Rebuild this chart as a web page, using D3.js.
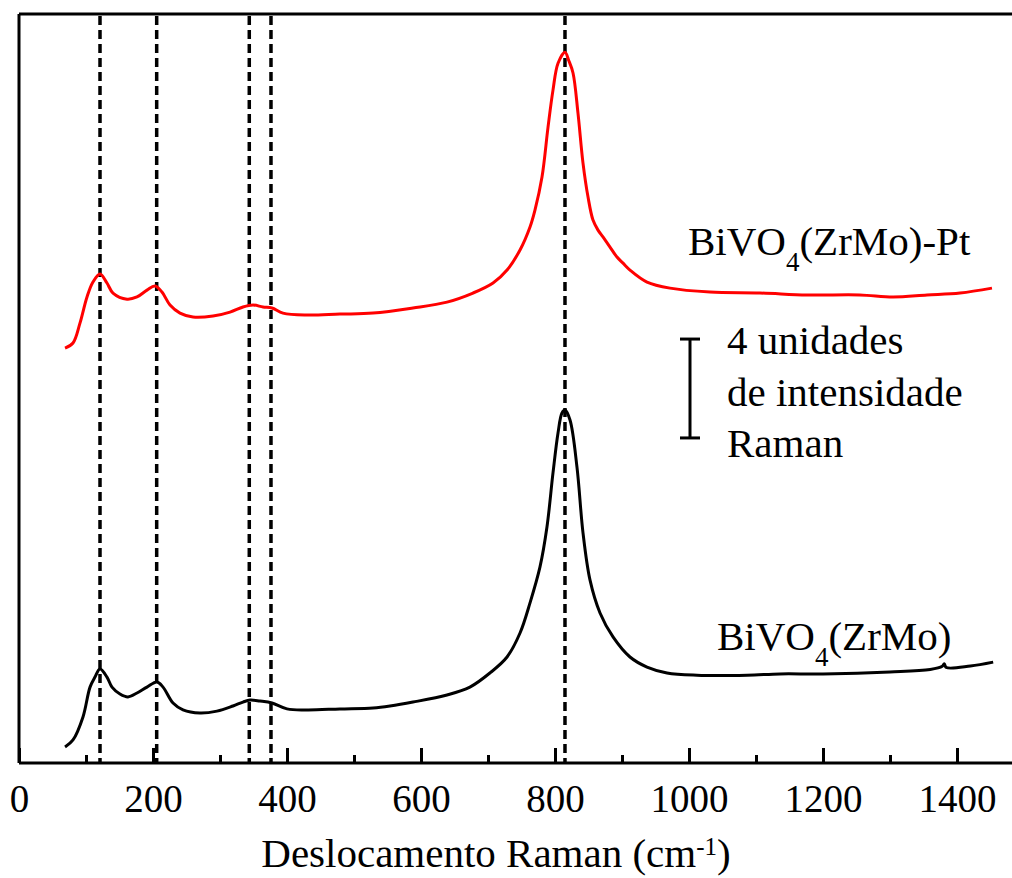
<!DOCTYPE html>
<html>
<head>
<meta charset="utf-8">
<script src="https://cdn.jsdelivr.net/npm/d3@7"></script>
<style>
  html, body { margin: 0; padding: 0; background: #fff; }
  svg { display: block; }
</style>
</head>
<body>
<svg id="chart" width="1012" height="878"></svg>
<script>
// ---- data (Raman shift in cm^-1, intensity in arbitrary stacked units) ----
const blackShift = [68.7, 80.6, 95.5, 106, 113.4, 120.9, 131.3, 138.8, 150.7, 162.7, 176.1, 191, 206, 215, 229.9, 244.8, 270, 295.5, 319.4, 334.3, 344.8, 359.7, 377.6, 400, 429.9, 479, 528.4, 553.7, 588, 638.8, 673, 703, 728.4, 747.8, 762.7, 777.6, 788, 797, 804.5, 810.4, 814.9, 822.4, 832.8, 841.8, 852.2, 867.2, 886.6, 911.9, 937.3, 967.2, 1011.9, 1086.6, 1135.8, 1200, 1300, 1360, 1378, 1381, 1384, 1420, 1454];
const blackIntensity = [0.65, 0.94, 1.88, 3.10, 3.51, 3.84, 3.51, 3.10, 2.82, 2.70, 2.86, 3.10, 3.31, 3.10, 2.45, 2.17, 2.04, 2.12, 2.33, 2.49, 2.57, 2.53, 2.45, 2.21, 2.17, 2.21, 2.25, 2.33, 2.49, 2.78, 3.10, 3.68, 4.33, 5.31, 6.54, 8.01, 9.64, 11.85, 13.48, 14.30, 14.42, 14.01, 12.09, 9.40, 7.48, 6.13, 5.15, 4.33, 3.92, 3.68, 3.59, 3.59, 3.64, 3.64, 3.72, 3.82, 3.95, 4.05, 3.90, 3.96, 4.12];

const redShift = [68.7, 80.6, 91, 101.5, 110.4, 120.9, 131.3, 140.3, 161.2, 176.1, 191, 203, 213.4, 225.4, 240.3, 259.7, 289.6, 315, 334.3, 349.3, 364.2, 377.6, 394, 429.9, 479, 528.4, 588, 638.8, 677.6, 707.5, 728.4, 747.8, 762.7, 770.1, 780.6, 789.6, 797, 804.5, 814.9, 820.5, 826.9, 834.3, 841.8, 849.3, 856.7, 864.2, 871.6, 882.1, 892.5, 901.5, 911.9, 937.3, 971.6, 1031.3, 1106, 1176, 1255, 1304.5, 1355.2, 1404.5, 1452.2];
const redIntensity = [16.95, 17.16, 17.97, 19.04, 19.65, 19.98, 19.61, 19.20, 18.95, 19.04, 19.32, 19.49, 19.24, 18.71, 18.38, 18.22, 18.26, 18.42, 18.63, 18.71, 18.63, 18.59, 18.38, 18.30, 18.34, 18.38, 18.59, 18.83, 19.20, 19.61, 20.14, 20.96, 21.90, 22.59, 23.94, 25.98, 27.49, 28.59, 29.04, 28.70, 28.19, 26.55, 24.51, 23.12, 22.18, 21.77, 21.49, 21.08, 20.67, 20.42, 20.14, 19.65, 19.40, 19.24, 19.20, 19.12, 19.12, 19.04, 19.12, 19.20, 19.40];

const peakLines = [120.9, 205.5, 343.7, 376.1, 814.9];
const xTicksMajor = [0, 200, 400, 600, 800, 1000, 1200, 1400];
const xTicksMinor = [100, 300, 500, 700, 900, 1100, 1300, 1500];
const scaleBar = [13.28, 17.32];   // 4 intensity units
const scaleText = ["4 unidades", "de intensidade", "Raman"];
const xTitle = "Deslocamento Raman (cm";

// ---- layout ----
const FONT = '"Liberation Serif", "Times New Roman", serif';
const svg = d3.select("#chart");
const padL = 19, plotBottom = 763, plotTop = 14;
const x = d3.scaleLinear().domain([0, 1500]).range([padL, padL + 1005]);
const y = d3.scaleLinear().domain([0, 30.6]).range([plotBottom, plotTop]);

// frame (left & top lines)
svg.append("line").attr("x1", padL).attr("x2", padL).attr("y1", plotTop).attr("y2", plotBottom)
  .attr("stroke", "#000").attr("stroke-width", 3);
svg.append("line").attr("x1", padL).attr("x2", 1012).attr("y1", plotTop).attr("y2", plotTop)
  .attr("stroke", "#000").attr("stroke-width", 3);

// dashed reference lines
svg.append("g").selectAll("line").data(peakLines).join("line")
  .attr("x1", d => x(d)).attr("x2", d => x(d))
  .attr("y1", plotTop + 2).attr("y2", plotBottom)
  .attr("stroke", "#000").attr("stroke-width", 3.5)
  .attr("stroke-dasharray", "9,5");

// curves
const line = d3.line().x(d => x(d[0])).y(d => y(d[1])).curve(d3.curveCatmullRom.alpha(0.5));
svg.append("path").datum(d3.zip(blackShift, blackIntensity))
  .attr("d", line).attr("fill", "none").attr("stroke", "#000").attr("stroke-width", 3)
  .attr("stroke-linejoin", "round");
svg.append("path").datum(d3.zip(redShift, redIntensity))
  .attr("d", line).attr("fill", "none").attr("stroke", "#ff0000").attr("stroke-width", 3)
  .attr("stroke-linejoin", "round");

// x axis
const gx = svg.append("g").attr("transform", `translate(0,${plotBottom})`)
  .call(d3.axisBottom(x).tickValues(xTicksMajor).tickSize(-15).tickPadding(21)
    .tickFormat(d3.format("d")));
gx.select(".domain").attr("stroke-width", 3).attr("d", `M${padL},0H1012`);
gx.selectAll(".tick line").attr("stroke-width", 3);
gx.selectAll(".tick text").attr("font-size", 39).style("font-family", FONT).attr("fill", "#000");
const gxm = svg.append("g").attr("transform", `translate(0,${plotBottom})`)
  .call(d3.axisBottom(x).tickValues(xTicksMinor).tickSize(-8).tickFormat(""));
gxm.select(".domain").remove();
gxm.selectAll(".tick line").attr("stroke-width", 3);

// x title
const t = svg.append("text").attr("x", 496).attr("y", 867).attr("text-anchor", "middle")
  .style("font-family", FONT).attr("font-size", 41);
t.append("tspan").text(xTitle);
t.append("tspan").attr("font-size", 25).attr("dy", -12).text("-1");
t.append("tspan").attr("dy", 12).text(")");

// series labels
function chemLabel(xp, yp, suffix) {
  const el = svg.append("text").attr("x", xp).attr("y", yp)
    .style("font-family", FONT).attr("font-size", 41);
  el.append("tspan").text("BiVO");
  el.append("tspan").attr("font-size", 27).attr("dy", 16).text("4");
  el.append("tspan").attr("dy", -16).text("(ZrMo)" + suffix);
}
chemLabel(688, 255, "-Pt");
chemLabel(717, 650, "");

// intensity scale bar
const sbx = 690;
const sb = svg.append("g").attr("stroke", "#000").attr("stroke-width", 3);
sb.append("line").attr("x1", sbx).attr("x2", sbx).attr("y1", y(scaleBar[1])).attr("y2", y(scaleBar[0]));
sb.append("line").attr("x1", sbx - 10).attr("x2", sbx + 10).attr("y1", y(scaleBar[1])).attr("y2", y(scaleBar[1]));
sb.append("line").attr("x1", sbx - 10).attr("x2", sbx + 10).attr("y1", y(scaleBar[0])).attr("y2", y(scaleBar[0]));
svg.append("g").selectAll("text").data(scaleText).join("text")
  .attr("x", 727).attr("y", (d, i) => 354 + i * 51.5)
  .style("font-family", FONT)
  .attr("font-size", 41).text(d => d);
</script>
</body>
</html>
